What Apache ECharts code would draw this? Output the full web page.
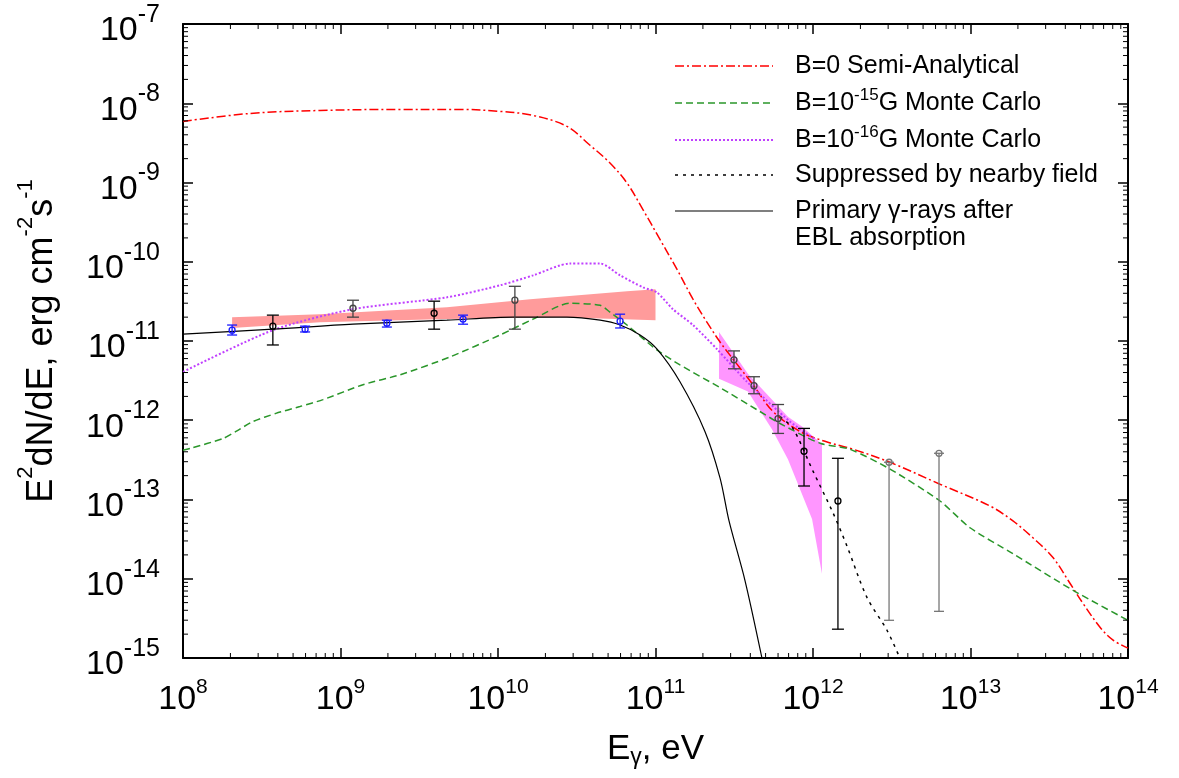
<!DOCTYPE html>
<html>
<head>
<meta charset="utf-8">
<script src="https://cdn.jsdelivr.net/npm/echarts@6/dist/echarts.min.js"></script>
<style>html,body{margin:0;padding:0;background:#fff}#chart{width:1179px;height:778px}</style>
</head>
<body>
<div id="chart"></div>
<script>
// ---- axis ticks ----
const xTickDecades = [1e8, 1e9, 1e10, 1e11, 1e12, 1e13, 1e14];
const yTickDecades = [1e-15, 1e-14, 1e-13, 1e-12, 1e-11, 1e-10, 1e-9, 1e-8, 1e-7];
const minorMultipliers = [2, 3, 4, 5, 6, 7, 8, 9];

// ---- model curves [E (eV), E^2 dN/dE (erg cm^-2 s^-1)] ----
const curveB0 = [[1e8,5.90e-9],[2.66e8,7.43e-9],[7.41e8,8.11e-9],[2.39e9,8.36e-9],[5.74e9,8.36e-9],[1.03e10,7.89e-9],[1.67e10,7.02e-9],[2.74e10,5.11e-9],[3.84e10,2.95e-9],[5.14e10,1.76e-9],[6.59e10,9.86e-10],[8.34e10,4.52e-10],[1.07e11,1.90e-10],[1.37e11,8.00e-11],[1.73e11,3.37e-11],[2.12e11,1.73e-11],[2.57e11,9.70e-12],[3.10e11,5.94e-12],[4.16e11,2.81e-12],[5.57e11,1.29e-12],[8.26e11,7.23e-13],[1.19e12,5.42e-13],[1.80e12,4.30e-13],[3.08e12,2.95e-13],[6.40e12,1.56e-13],[1.33e13,8.28e-14],[1.86e13,5.37e-14],[2.49e13,3.29e-14],[3.34e13,1.85e-14],[4.29e13,8.71e-15],[5.18e13,4.89e-15],[6.64e13,2.45e-15],[8.04e13,1.68e-15],[1e14,1.33e-15]];
const curveB15 = [[1e8,4.18e-13],[1.12e8,4.43e-13],[1.80e8,5.90e-13],[2.17e8,7.23e-13],[2.78e8,9.64e-13],[3.89e8,1.22e-12],[5.53e8,1.49e-12],[7.74e8,1.82e-12],[1.39e9,2.81e-12],[2.39e9,3.75e-12],[4.95e9,6.29e-12],[1.03e10,1.19e-11],[1.67e10,1.89e-11],[2.86e10,2.99e-11],[4.45e10,2.82e-11],[5.14e10,2.31e-11],[6.59e10,1.59e-11],[1.02e11,7.71e-12],[1.43e11,5.00e-12],[2.57e11,2.58e-12],[4.60e11,1.29e-12],[6.17e11,9.10e-13],[1.11e12,5.12e-13],[1.72e12,4.30e-13],[3.08e12,2.42e-13],[6.40e12,9.57e-14],[9.93e12,4.40e-14],[1.86e13,2.07e-14],[4.48e13,7.13e-15],[1e14,2.99e-15]];
const curveB16 = [[1e8,4.08e-12],[3.72e8,1.37e-11],[1.20e9,2.52e-11],[4.74e9,3.56e-11],[1.03e10,5.04e-11],[1.67e10,6.73e-11],[2.86e10,9.50e-11],[4.45e10,9.50e-11],[5.96e10,6.73e-11],[8.34e10,4.75e-11],[1.02e11,4.11e-11],[1.29e11,2.52e-11],[1.73e11,1.59e-11],[2.45e11,7.94e-12],[3.81e11,3.06e-12],[7.14e11,9.64e-13],[1.03e12,5.74e-13]];
const curveSuppressed = [[6.17e11,1.11e-12],[7.46e11,7.89e-13],[1e12,2.28e-13],[1.34e12,6.78e-14],[1.64e12,2.61e-14],[2.20e12,5.82e-15],[2.95e12,2.24e-15],[3.56e12,1e-15]];
const curvePrimary = [[1e8,1.22e-11],[3.72e8,1.41e-11],[1.20e9,1.63e-11],[4.74e9,1.83e-11],[1.24e10,2.00e-11],[2.74e10,2.00e-11],[4.45e10,1.83e-11],[5.96e10,1.59e-11],[7.98e10,1.19e-11],[1.02e11,7.94e-12],[1.43e11,3.06e-12],[2.06e11,7.23e-13],[2.57e11,1.86e-13],[2.93e11,5.37e-14],[3.70e11,9.5e-15],[4.74e11,1e-15]];

// ---- butterfly bands (polygon vertices) ----
const pinkBand = [[2.05e8,2.00e-11],[7.41e8,2.18e-11],[4.74e9,2.67e-11],[1.60e10,3.37e-11],[6.59e10,4.23e-11],[1e11,4.49e-11],[1e11,1.83e-11],[2.48e10,2.00e-11],[4.74e9,1.89e-11],[7.41e8,1.73e-11],[2.05e8,1.46e-11]];
const magentaBand = [[2.53e11,1.30e-11],[3.86e11,3.85e-12],[6.93e11,1.11e-12],[8.51e11,8.36e-13],[1.14e12,4.97e-13],[1.14e12,1.16e-14],[9.86e11,5.69e-14],[6.93e11,3.22e-13],[5.50e11,7.66e-13],[3.86e11,2.30e-12],[2.53e11,3.34e-12]];

// ---- data points [E, value, low, high] ----
const bluePoints = [[2.05e8,1.37e-11,1.19e-11,1.59e-11],[5.96e8,1.41e-11,1.30e-11,1.54e-11],[1.97e9,1.68e-11,1.50e-11,1.83e-11],[6.00e9,1.89e-11,1.63e-11,2.12e-11],[5.96e10,1.78e-11,1.46e-11,2.18e-11]];
const blackPoints = [[3.72e8,1.54e-11,8.91e-12,2.12e-11],[3.93e9,2.24e-11,1.41e-11,3.18e-11],[8.77e11,4.06e-13,1.48e-13,7.89e-13],[1.44e12,9.57e-14,2.31e-15,3.31e-13]];
const darkPoints = [[1.20e9,2.59e-11,2.00e-11,3.27e-11],[1.28e10,3.27e-11,1.41e-11,4.90e-11],[3.15e11,5.78e-12,4.46e-12,7.50e-12],[4.22e11,2.73e-12,2.16e-12,3.54e-12],[6.00e11,1.05e-12,6.82e-13,1.58e-12]];
const grayPoints = [[3.04e12,2.95e-13,2.99e-15,2.95e-13],[6.31e12,3.83e-13,3.88e-15,3.83e-13]];

const FONT = '"Liberation Sans", Arial, Helvetica, sans-serif';

const xMinorTicks = [];
xTickDecades.slice(0, -1).forEach(d => minorMultipliers.forEach(m => xMinorTicks.push(m * d)));
const yMinorTicks = [];
yTickDecades.slice(0, -1).forEach(d => minorMultipliers.forEach(m => yMinorTicks.push(m * d)));

function expOf(v) { return Math.round(Math.log10(v)); }

function bandSeries(name, verts, color) {
  return {
    type: 'custom', name: name, silent: true, z: 1,
    data: verts,
    renderItem: function (params, api) {
      if (params.dataIndex !== 0) return null;
      const pts = verts.map(v => api.coord(v));
      return { type: 'polygon', shape: { points: pts }, style: { fill: color, stroke: null } };
    }
  };
}

function errSeries(name, data, color, capW) {
  return {
    type: 'custom', name: name, silent: true, z: 5,
    dimensions: ['E', 'F', 'lo', 'hi'],
    encode: { x: 0, y: 1 },
    data: data,
    renderItem: function (params, api) {
      const e = api.value(0);
      const p = api.coord([e, api.value(1)]);
      const pl = api.coord([e, api.value(2)]);
      const ph = api.coord([e, api.value(3)]);
      const st = { stroke: color, lineWidth: 1.3, fill: null };
      return {
        type: 'group', children: [
          { type: 'line', shape: { x1: pl[0], y1: pl[1], x2: ph[0], y2: ph[1] }, style: st },
          { type: 'line', shape: { x1: ph[0] - capW / 2, y1: ph[1], x2: ph[0] + capW / 2, y2: ph[1] }, style: st },
          { type: 'line', shape: { x1: pl[0] - capW / 2, y1: pl[1], x2: pl[0] + capW / 2, y2: pl[1] }, style: st },
          { type: 'circle', shape: { cx: p[0], cy: p[1], r: 3 }, style: st }
        ]
      };
    }
  };
}

function lineSeries(name, data, color, width, type, smooth) {
  return {
    type: 'line', name: name, data: data, symbol: 'none', smooth: smooth, z: 3,
    lineStyle: { color: color, width: width, type: type }, silent: true
  };
}

const RED = '#ff0000', GREEN = '#2a962a', PURPLE = '#c040ff', BLACK = '#000000';

const axisCommon = {
  axisLine: { show: true, onZero: false, lineStyle: { color: '#000', width: 2 } },
  axisTick: { show: true, inside: true, length: 10, lineStyle: { color: '#000', width: 1.5 } },
  splitLine: { show: false },
  minorTick: { show: false }
};

const legendRows = [
  { y: 66, color: RED, dash: [9, 3, 2, 3], width: 1.5, text: '{m|B=0 Semi-Analytical}' },
  { y: 103, color: GREEN, dash: [7, 4], width: 1.5, text: '{m|B=10}{s|-15}{m|G Monte Carlo}' },
  { y: 140, color: PURPLE, dash: [2, 2], width: 2, text: '{m|B=10}{s|-16}{m|G Monte Carlo}' },
  { y: 175, color: BLACK, dash: [3, 5], width: 1.5, text: '{m|Suppressed by nearby field}' },
  { y: 211, color: BLACK, dash: null, width: 1.2, text: '{m|Primary γ-rays after}' }
];
const legendRich = {
  m: { fontSize: 25, fontFamily: FONT, color: '#000', lineHeight: 25 },
  s: { fontSize: 17, fontFamily: FONT, color: '#000', lineHeight: 17, padding: [0, 0, 15, 0] }
};
const graphics = [];
legendRows.forEach(r => {
  graphics.push({ type: 'line', silent: true, shape: { x1: 675, y1: r.y, x2: 773, y2: r.y },
    style: { stroke: r.color, lineWidth: r.width, lineDash: r.dash } });
  graphics.push({ type: 'text', silent: true, x: 795, y: r.y,
    style: { text: r.text, rich: legendRich, verticalAlign: 'middle', align: 'left', fill: '#000' } });
});
graphics.push({ type: 'text', silent: true, x: 795, y: 238,
  style: { text: '{m|EBL absorption}', rich: legendRich, verticalAlign: 'middle', align: 'left', fill: '#000' } });

const option = {
  animation: false,
  backgroundColor: '#fff',
  grid: { left: 183, right: 51, top: 20, bottom: 120, containLabel: false },
  xAxis: [
    Object.assign({}, axisCommon, {
      type: 'log', logBase: 10, min: 1e8, max: 1e14, position: 'bottom',
      axisLabel: {
        margin: 25,
        formatter: v => '{a|10}{b|' + expOf(v) + '}',
        rich: {
          a: { fontSize: 34, fontFamily: FONT, color: '#000', lineHeight: 34 },
          b: { fontSize: 21, fontFamily: FONT, color: '#000', lineHeight: 21, padding: [0, 0, 26, 0] }
        }
      },
      name: '{a|E}{g|γ}{a|, eV}',
      nameLocation: 'middle', nameGap: 71,
      nameTextStyle: {
        rich: {
          a: { fontSize: 35, fontFamily: FONT, color: '#000', lineHeight: 35 },
          g: { fontSize: 23, fontFamily: FONT, color: '#000', lineHeight: 23, padding: [18, 0, 0, 0] }
        }
      }
    }),
    Object.assign({}, axisCommon, {
      type: 'log', logBase: 10, min: 1e8, max: 1e14, position: 'top', axisLabel: { show: false }
    })
  ],
  yAxis: [
    Object.assign({}, axisCommon, {
      type: 'log', logBase: 10, min: 1e-15, max: 1e-7, position: 'left',
      axisLabel: {
        margin: 23,
        formatter: v => '{a|10}{b|' + expOf(v) + '}',
        rich: {
          a: { fontSize: 34, fontFamily: FONT, color: '#000', lineHeight: 34, padding: [14, 0, 0, 0] },
          b: { fontSize: 25, fontFamily: FONT, color: '#000', lineHeight: 25, padding: [0, 0, 18, 0] }
        }
      },
      name: '{m|E}{s|2}{m|dN/dE, erg cm}{s|-2}{m|s}{s|-1}',
      nameLocation: 'middle', nameGap: 123, nameRotate: 90,
      nameTextStyle: {
        rich: {
          m: { fontSize: 36, fontFamily: FONT, color: '#000', lineHeight: 36 },
          s: { fontSize: 22, fontFamily: FONT, color: '#000', lineHeight: 22, padding: [0, 0, 32, 0] }
        }
      }
    }),
    Object.assign({}, axisCommon, {
      type: 'log', logBase: 10, min: 1e-15, max: 1e-7, position: 'right', axisLabel: { show: false }
    })
  ],
  graphic: graphics,
  series: [
    bandSeries('Fermi butterfly', pinkBand, '#ff9b9b'),
    bandSeries('TeV butterfly', magentaBand, '#ff96ff'),
    lineSeries('B=0 Semi-Analytical', curveB0, RED, 1.5, [9, 3, 2, 3], 0.35),
    lineSeries('B=1e-15G Monte Carlo', curveB15, GREEN, 1.5, [7, 4], 0.25),
    lineSeries('B=1e-16G Monte Carlo', curveB16, PURPLE, 2, [2, 2], 0.25),
    lineSeries('Suppressed by nearby field', curveSuppressed, BLACK, 1.5, [3, 5], 0.3),
    lineSeries('Primary γ-rays after EBL absorption', curvePrimary, BLACK, 1.2, 'solid', 0.3),
    errSeries('Fermi points', bluePoints, '#1a1aff', 10),
    errSeries('points', blackPoints, '#000000', 12),
    errSeries('points dark', darkPoints, '#444444', 12),
    errSeries('points gray', grayPoints, '#777777', 10),
    {
      type: 'custom', name: 'x minor ticks', silent: true, z: 6,
      data: xMinorTicks.map(v => [v, 1e-11]),
      renderItem: function (params, api) {
        const cs = params.coordSys;
        const x = api.coord([api.value(0), api.value(1)])[0];
        const b = cs.y + cs.height, t = cs.y;
        const st = { stroke: '#000', lineWidth: 1 };
        return { type: 'group', children: [
          { type: 'line', shape: { x1: x, y1: b, x2: x, y2: b - 5 }, style: st },
          { type: 'line', shape: { x1: x, y1: t, x2: x, y2: t + 5 }, style: st }
        ] };
      }
    },
    {
      type: 'custom', name: 'y minor ticks', silent: true, z: 6,
      data: yMinorTicks.map(v => [1e10, v]),
      renderItem: function (params, api) {
        const cs = params.coordSys;
        const y = api.coord([api.value(0), api.value(1)])[1];
        const l = cs.x, r = cs.x + cs.width;
        const st = { stroke: '#000', lineWidth: 1 };
        return { type: 'group', children: [
          { type: 'line', shape: { x1: l, y1: y, x2: l + 5, y2: y }, style: st },
          { type: 'line', shape: { x1: r, y1: y, x2: r - 5, y2: y }, style: st }
        ] };
      }
    }
  ]
};

const chart = echarts.init(document.getElementById('chart'), null, { renderer: 'canvas' });
chart.setOption(option);
</script>
</body>
</html>
